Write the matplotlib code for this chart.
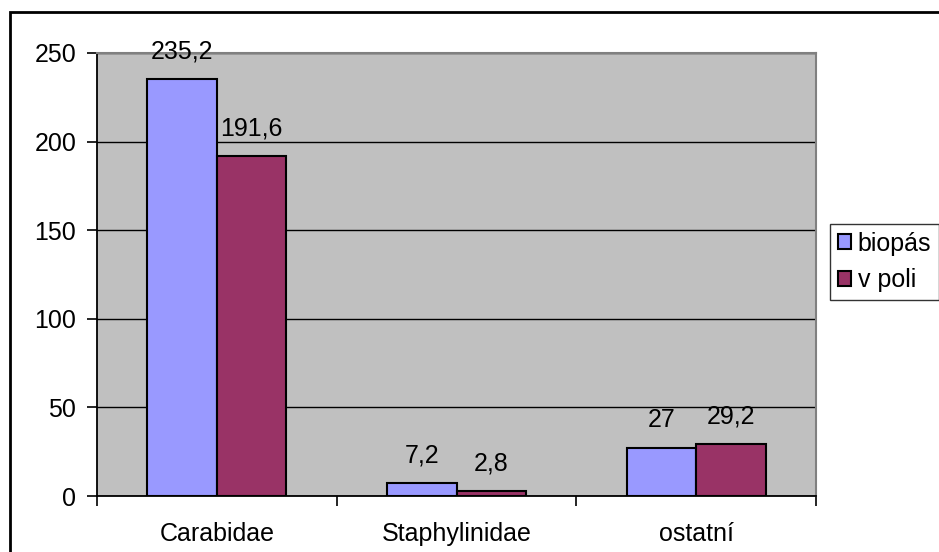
import numpy as np
import matplotlib.pyplot as plt
from matplotlib.patches import Rectangle

# Data
kategorie = ['Carabidae', 'Staphylinidae', 'ostatní']
biopas = [235.2, 7.2, 27]
v_poli = [191.6, 2.8, 29.2]
popisky_biopas = ['235,2', '7,2', '27']
popisky_v_poli = ['191,6', '2,8', '29,2']
serie = ['biopás', 'v poli']

plt.rcParams['font.family'] = ['Liberation Sans', 'DejaVu Sans']
fs = 18

W, H = 939, 552
fig = plt.figure(figsize=(W / 100, H / 100), dpi=100)

# black frame round the chart (only top and left visible in the picture)
fig.patches.append(Rectangle((10 / W, -0.05), 1.0, (H - 12) / H + 0.05,
                             transform=fig.transFigure, fill=False,
                             edgecolor='black', linewidth=2, zorder=0))

ax = fig.add_axes([97 / W, (H - 496) / H, 719 / W, 443 / H])
ax.set_facecolor('#C0C0C0')

x = np.arange(len(kategorie))
sirka = 0.29
b1 = ax.bar(x - sirka / 2, biopas, sirka, color='#9999FF', edgecolor='black',
            linewidth=1.5, label=serie[0], zorder=3)
b2 = ax.bar(x + sirka / 2, v_poli, sirka, color='#993366', edgecolor='black',
            linewidth=1.5, label=serie[1], zorder=3)

for bary, popisky in [(b1, popisky_biopas), (b2, popisky_v_poli)]:
    for r, t in zip(bary, popisky):
        ax.annotate(t, (r.get_x() + r.get_width() / 2, r.get_height()),
                    xytext=(0, 16), textcoords='offset pixels',
                    ha='center', va='bottom', fontsize=fs, zorder=4)

ax.set_xlim(-0.5, len(kategorie) - 0.5)
ax.set_ylim(0, 250)
ax.set_yticks(np.arange(0, 251, 50))
ax.yaxis.grid(True, color='black', linewidth=1, zorder=1)
ax.set_axisbelow(True)

# category ticks at boundaries, labels in the middle
ax.set_xticks(np.arange(len(kategorie) + 1) - 0.5)
ax.set_xticklabels([])
ax.set_xticks(x, minor=True)
ax.set_xticklabels(kategorie, minor=True)
ax.tick_params(axis='x', which='major', length=7, width=1.2, direction='out')
ax.tick_params(axis='x', which='minor', length=0, pad=19, labelsize=fs)
ax.tick_params(axis='y', length=7, width=1.2, direction='out', labelsize=fs, pad=8)

for s in ['left', 'bottom']:
    ax.spines[s].set_color('black')
    ax.spines[s].set_linewidth(1.3)
for s in ['top', 'right']:
    ax.spines[s].set_color('#808080')
    ax.spines[s].set_linewidth(1.5)

leg = ax.legend(loc='upper left', bbox_to_anchor=(830 / W, (H - 224) / H),
                bbox_transform=fig.transFigure, fontsize=fs, frameon=True,
                fancybox=False, edgecolor='black', handlelength=0.55,
                handleheight=0.55, handletextpad=0.25, borderpad=0.3,
                labelspacing=0.5, borderaxespad=0)
leg.get_frame().set_linewidth(1)

fig.savefig('out.png', dpi=100)
